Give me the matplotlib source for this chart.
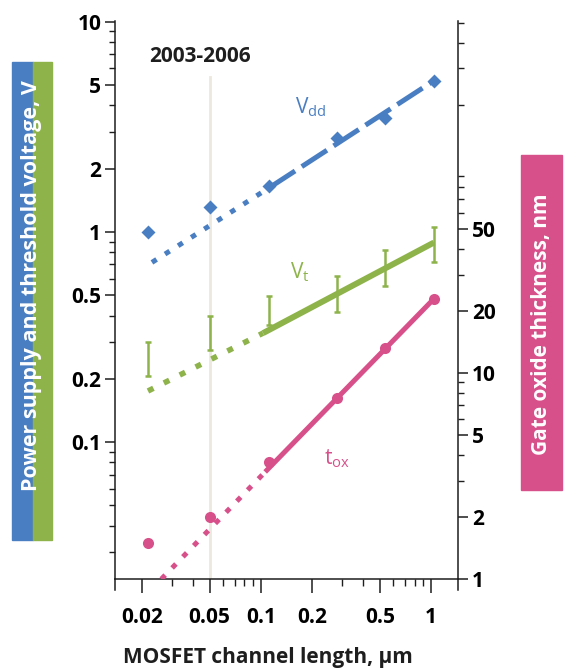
import matplotlib
matplotlib.use("Agg")
import numpy as np
import matplotlib.pyplot as plt
from matplotlib.patches import Rectangle
from matplotlib.ticker import FixedLocator, FixedFormatter, LogLocator, NullFormatter

plt.rcParams['font.family'] = ['Open Sans', 'DejaVu Sans']
plt.rcParams['mathtext.fontset'] = 'custom'
plt.rcParams['mathtext.rm'] = 'Open Sans'

# channel length of each node, um
length = [0.0217, 0.0502, 0.112, 0.28, 0.535, 1.04]

# power supply voltage, V
vdd = [1.0, 1.31, 1.66, 2.81, 3.50, 5.24]
vdd_fit_x = [0.0229, 0.113, 1.04]
vdd_fit = [0.716, 1.63, 5.24]

# threshold voltage spread, V
vt_lo = [0.206, 0.274, 0.36, 0.415, 0.551, 0.716]
vt_hi = [0.299, 0.397, 0.494, 0.615, 0.817, 1.06]
vt_fit_x = [0.0217, 0.103, 1.04]
vt_fit = [0.175, 0.33, 0.89]

# gate oxide thickness, nm
tox = [1.5, 2.0, 3.7, 7.56, 13.2, 22.9]
tox_fit_x = [0.026, 0.106, 1.04]
tox_fit = [1.0, 3.31, 22.9]

era = 0.05

x_ticks = [0.02, 0.05, 0.1, 0.2, 0.5, 1]
x_ticklabels = ["0.02", "0.05", "0.1", "0.2", "0.5", "1"]
left_ticks = [0.1, 0.2, 0.5, 1, 2, 5, 10]
left_ticklabels = ["0.1", "0.2", "0.5", "1", "2", "5", "10"]
right_ticks = [1, 2, 5, 10, 20, 50]
right_ticklabels = ["1", "2", "5", "10", "20", "50"]

BLUE = '#4a7ec2'
GREEN = '#8db34a'
PINK = '#d8508a'
INK = '#1e1e1e'

fig = plt.figure(figsize=(5.64, 6.71), dpi=100)
ax = fig.add_axes([0.204, 0.137, 0.608, 0.832])
ax.set_xscale('log')
ax.set_yscale('log')
ax.set_xlim(0.0139, 1.44)
ax.set_ylim(0.0223, 10.1)

ax2 = ax.twinx()
ax2.set_yscale('log')
ax2.set_ylim(1, 511)

# era marker
ax.axvline(era, ymin=0, ymax=0.9, color='#ece8dd', lw=2, zorder=0)
ax.text(0.044, 6.8, '2003-2006', ha='center', va='center', fontsize=15,
        fontweight='bold', color=INK)

# Vdd
ax.plot(vdd_fit_x[:2], vdd_fit[:2], color=BLUE, lw=3.6, ls=(0, (1.1, 2.0)))
ax.plot(vdd_fit_x[1:], vdd_fit[1:], color=BLUE, lw=3.6, ls=(0, (6, 1.6)))
ax.plot(length, vdd, 'D', color=BLUE, ms=7.5, mec='none')
ax.text(0.197, 3.9, r'V$_{\mathrm{dd}}$', color=BLUE, fontsize=15,
        ha='center', va='center')

# Vt
vt_lo = np.array(vt_lo)
vt_hi = np.array(vt_hi)
vt_mid = np.sqrt(vt_lo * vt_hi)
ax.errorbar(length, vt_mid, yerr=[vt_mid - vt_lo, vt_hi - vt_mid], fmt='none',
            ecolor=GREEN, elinewidth=1.8, capsize=2.5, capthick=1.8)
ax.plot(vt_fit_x[:2], vt_fit[:2], color=GREEN, lw=4.0, ls=(0, (1.1, 2.1)))
ax.plot(vt_fit_x[1:], vt_fit[1:], color=GREEN, lw=4.3, solid_capstyle='butt')
ax.text(0.17, 0.64, r'V$_{\mathrm{t}}$', color=GREEN, fontsize=15,
        ha='center', va='center')

# tox (right axis)
ax2.plot(tox_fit_x[:2], tox_fit[:2], color=PINK, lw=3.6, ls=(0, (1.1, 2.0)))
ax2.plot(tox_fit_x[1:], tox_fit[1:], color=PINK, lw=3.6, solid_capstyle='butt')
ax2.plot(length, tox, 'o', color=PINK, ms=8, mec='none')
ax2.text(0.28, 3.85, r't$_{\mathrm{ox}}$', color=PINK, fontsize=15,
         ha='center', va='center')

# axes styling
for a in (ax, ax2):
    a.spines['top'].set_visible(False)
    for s in a.spines.values():
        s.set_linewidth(1.1)
        s.set_color(INK)
ax.spines['right'].set_visible(False)
ax2.spines['left'].set_visible(False)
ax2.spines['bottom'].set_visible(False)

ax.xaxis.set_major_locator(FixedLocator(x_ticks))
ax.xaxis.set_major_formatter(FixedFormatter(x_ticklabels))
ax.xaxis.set_minor_locator(LogLocator(base=10, subs=np.arange(2, 10)))
ax.xaxis.set_minor_formatter(NullFormatter())

ax.yaxis.set_major_locator(FixedLocator(left_ticks))
ax.yaxis.set_major_formatter(FixedFormatter(left_ticklabels))
ax.yaxis.set_minor_locator(LogLocator(base=10, subs=np.arange(2, 10)))
ax.yaxis.set_minor_formatter(NullFormatter())

ax2.yaxis.set_major_locator(FixedLocator(right_ticks))
ax2.yaxis.set_major_formatter(FixedFormatter(right_ticklabels))
ax2.yaxis.set_minor_locator(LogLocator(base=10, subs=np.arange(2, 10)))
ax2.yaxis.set_minor_formatter(NullFormatter())

ax.tick_params(axis='x', which='major', length=10, width=1.1, color=INK,
               labelsize=15, pad=10)
ax.tick_params(axis='x', which='minor', length=5, width=1.0, color=INK)
ax.tick_params(axis='y', which='major', length=7, width=1.1, color=INK,
               labelsize=15, pad=3)
ax.tick_params(axis='y', which='minor', length=4, width=1.0, color=INK)
ax2.tick_params(axis='y', which='major', length=7, width=1.1, color=INK,
                labelsize=15, pad=3)
ax2.tick_params(axis='y', which='minor', length=4, width=1.0, color=INK)
for lab in ax.get_xticklabels() + ax.get_yticklabels() + ax2.get_yticklabels():
    lab.set_fontweight('bold')

# spine stubs below the x axis
for xa in (0, 1):
    ax.plot([xa, xa], [0, -0.02], transform=ax.transAxes, color=INK,
            lw=1.1, clip_on=False)

# x label
fig.text(268 / 564, 1 - 657 / 671, 'MOSFET channel length, µm', ha='center',
         va='center', fontsize=15, fontweight='bold', color=INK)

# coloured y label boxes
fig.add_artist(Rectangle((12 / 564, 131 / 671), 21 / 564, 478 / 671,
                         color=BLUE, transform=fig.transFigure, zorder=0))
fig.add_artist(Rectangle((33 / 564, 131 / 671), 19 / 564, 478 / 671,
                         color=GREEN, transform=fig.transFigure, zorder=0))
fig.text(32 / 564, 1 - 286 / 671, 'Power supply and threshold voltage, V',
         rotation=90, ha='center', va='center', fontsize=15.5,
         fontweight='bold', color='white')

fig.add_artist(Rectangle((521 / 564, 181 / 671), 41 / 564, 335 / 671,
                         color=PINK, transform=fig.transFigure, zorder=0))
fig.text(541.5 / 564, 1 - 324 / 671, 'Gate oxide thickness, nm',
         rotation=90, ha='center', va='center', fontsize=15,
         fontweight='bold', color='white')

fig.savefig('out.png', dpi=100)
